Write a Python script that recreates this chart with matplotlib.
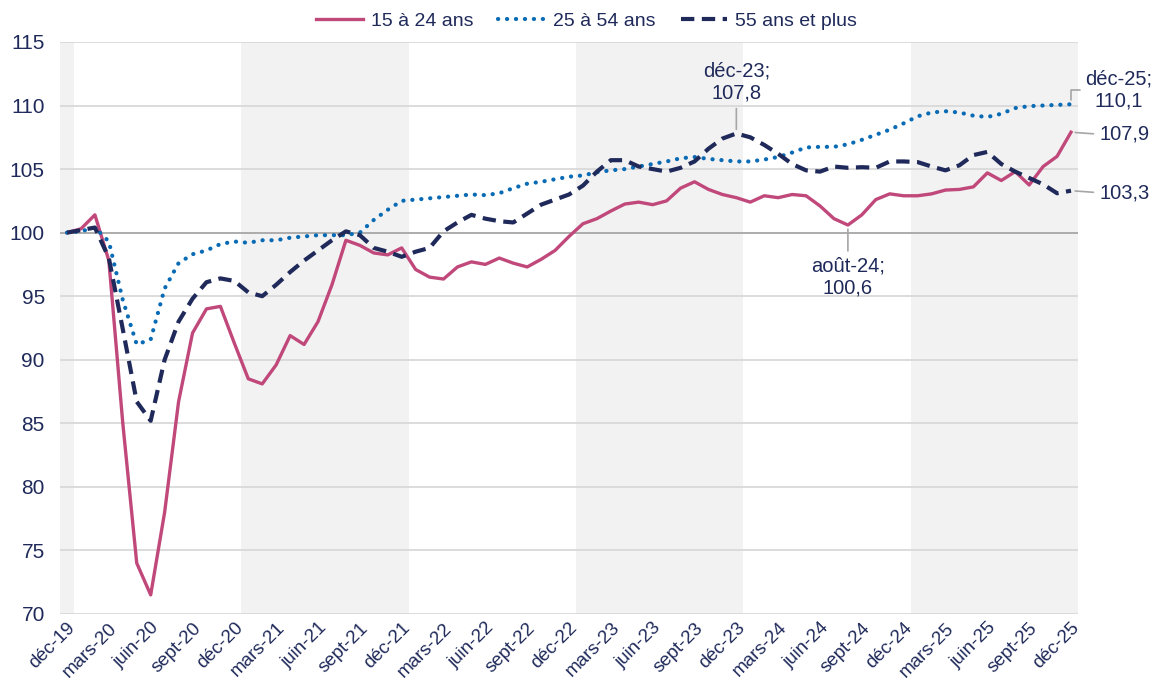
import matplotlib
matplotlib.use('Agg')
import matplotlib.pyplot as plt

plt.rcParams['font.family'] = ['Liberation Sans', 'DejaVu Sans']

# monthly index, déc-19 (0) to déc-25 (72)
tick_labels = ['déc-19', 'mars-20', 'juin-20', 'sept-20', 'déc-20', 'mars-21', 'juin-21',
               'sept-21', 'déc-21', 'mars-22', 'juin-22', 'sept-22', 'déc-22', 'mars-23',
               'juin-23', 'sept-23', 'déc-23', 'mars-24', 'juin-24', 'sept-24', 'déc-24',
               'mars-25', 'juin-25', 'sept-25', 'déc-25']

jeunes = [100.0, 100.3, 101.4, 97.8, 85.0, 74.0, 71.5, 78.0, 86.7, 92.1, 94.0, 94.2, 91.3,
          88.5, 88.1, 89.6, 91.9, 91.2, 93.0, 95.9, 99.4, 99.0, 98.4, 98.25, 98.8, 97.1,
          96.5, 96.35, 97.3, 97.7, 97.5, 98.0, 97.6, 97.3, 97.9, 98.6, 99.7, 100.7, 101.1,
          101.7, 102.25, 102.4, 102.2, 102.5, 103.5, 104.0, 103.4, 103.0, 102.75, 102.4,
          102.9, 102.75, 103.0, 102.9, 102.1, 101.1, 100.6, 101.4, 102.6, 103.05, 102.9,
          102.9, 103.05, 103.35, 103.4, 103.6, 104.7, 104.1, 104.8, 103.75, 105.2, 106.0,
          107.9]

coeur = [100.0, 100.1, 100.4, 99.3, 94.7, 91.2, 91.6, 95.6, 97.6, 98.3, 98.6, 99.1, 99.3,
         99.2, 99.4, 99.4, 99.6, 99.7, 99.8, 99.8, 99.8, 100.0, 101.0, 101.8, 102.5, 102.6,
         102.7, 102.8, 102.9, 103.0, 102.95, 103.1, 103.5, 103.85, 104.0, 104.2, 104.4,
         104.5, 104.75, 104.9, 105.0, 105.2, 105.4, 105.6, 105.85, 105.95, 105.8, 105.7,
         105.6, 105.6, 105.75, 105.95, 106.3, 106.7, 106.75, 106.75, 106.95, 107.3, 107.7,
         108.1, 108.6, 109.15, 109.45, 109.55, 109.45, 109.2, 109.1, 109.35, 109.8, 109.95,
         110.0, 110.05, 110.1]

seniors = [100.0, 100.2, 100.4, 98.0, 92.4, 86.7, 85.2, 90.0, 93.0, 94.8, 96.1, 96.4, 96.2,
           95.3, 95.0, 95.9, 96.9, 97.8, 98.6, 99.4, 100.1, 99.8, 98.8, 98.5, 98.1, 98.5,
           98.8, 100.1, 100.8, 101.4, 101.1, 100.9, 100.8, 101.5, 102.2, 102.6, 103.0,
           103.7, 104.8, 105.7, 105.7, 105.2, 105.0, 104.8, 105.1, 105.6, 106.6, 107.4,
           107.8, 107.5, 106.9, 106.2, 105.4, 104.9, 104.8, 105.2, 105.1, 105.15, 105.1,
           105.6, 105.6, 105.55, 105.2, 104.9, 105.3, 106.1, 106.35, 105.4, 104.8, 104.3,
           103.8, 103.1, 103.3]

navy = '#1F2A5A'
fs = 14.5
x = list(range(len(jeunes)))

fig = plt.figure(figsize=(11.57, 6.88), dpi=100)
ax = fig.add_axes([0.0519, 0.1076, 0.8798, 0.8314])

# alternate year shading: déc-19, 2021, 2023, 2025
for a, b in [(-0.5, 0.5), (12.5, 24.5), (36.5, 48.5), (60.5, 72.5)]:
    ax.axvspan(a, b, color='#F2F2F2', lw=0, zorder=0)

for v in range(70, 120, 5):
    ax.axhline(v, color='#A6A6A6' if v == 100 else '#D9D9D9', lw=1.3, zorder=1)

ax.plot(x, jeunes, color='#C0487A', lw=2.4, label='15 à 24 ans', zorder=3)
ax.plot(x, coeur, color='#0A6BB5', lw=3.0, linestyle=(0, (0.05, 2.1)),
        dash_capstyle='round', label='25 à 54 ans', zorder=3)
ax.plot(x, seniors, color=navy, lw=3.0, linestyle=(0, (3.2, 1.8)),
        label='55 ans et plus', zorder=3)

ax.set_xlim(-0.5, 72.5)
ax.set_ylim(70, 115)
ax.set_yticks(range(70, 120, 5))
ax.set_xticks(range(0, 73, 3))
ax.set_xticklabels(tick_labels, rotation=45, ha='right', rotation_mode='anchor')
ax.tick_params(axis='both', length=0, labelsize=13.5, colors=navy)
ax.tick_params(axis='x', pad=4)
ax.tick_params(axis='y', labelsize=15, pad=11)
for s in ax.spines.values():
    s.set_visible(False)

lead = dict(arrowstyle='-', color='#A6A6A6', lw=1.2, shrinkA=2, shrinkB=3)
ax.annotate('déc-23;\n107,8', xy=(48, 107.8), xytext=(0, 51), textcoords='offset pixels',
            ha='center', va='center', fontsize=fs, color=navy,
            arrowprops=dict(lead, relpos=(0.5, 0)))
ax.annotate('août-24;\n100,6', xy=(56, 100.6), xytext=(0, -52), textcoords='offset pixels',
            ha='center', va='center', fontsize=fs, color=navy,
            arrowprops=dict(lead, relpos=(0.5, 1)))
ax.annotate('déc-25;\n110,1', xy=(72, 110.1), xytext=(48, 14), textcoords='offset pixels',
            ha='center', va='center', fontsize=fs, color=navy, annotation_clip=False,
            arrowprops=dict(lead, relpos=(0, 0.5),
                            connectionstyle='angle,angleA=0,angleB=90,rad=0'))
ax.annotate('107,9', xy=(72, 107.9), xytext=(28, -2), textcoords='offset pixels',
            ha='left', va='center', fontsize=fs, color=navy, annotation_clip=False,
            arrowprops=dict(lead, relpos=(0, 0.5)))
ax.annotate('103,3', xy=(72, 103.3), xytext=(28, -2), textcoords='offset pixels',
            ha='left', va='center', fontsize=fs, color=navy, annotation_clip=False,
            arrowprops=dict(lead, relpos=(0, 0.5)))

fig.legend(loc='upper center', bbox_to_anchor=(0.507, 1.008), ncol=3, frameon=False,
           fontsize=14, handlelength=2.4, handletextpad=0.4, columnspacing=1.3,
           labelcolor=navy)

fig.savefig('out.png', dpi=100)
